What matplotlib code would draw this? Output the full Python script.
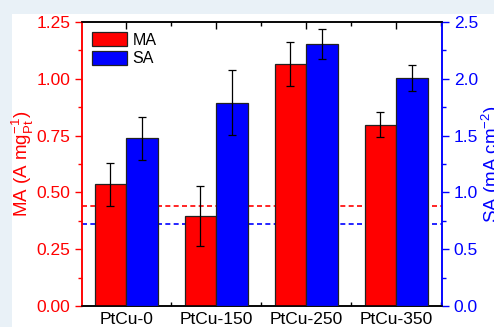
import matplotlib
matplotlib.use("Agg")
import matplotlib.pyplot as plt
import numpy as np
from matplotlib.patches import Rectangle
from matplotlib.ticker import MultipleLocator
from matplotlib.transforms import blended_transform_factory

plt.rcParams['font.family'] = ['Liberation Sans', 'DejaVu Sans']

categories = ["PtCu-0", "PtCu-150", "PtCu-250", "PtCu-350"]
ma_values = [0.536, 0.396, 1.065, 0.797]
ma_errors = [0.095, 0.13, 0.097, 0.055]
sa_values = [1.476, 1.79, 2.306, 2.007]
sa_errors = [0.187, 0.285, 0.135, 0.117]
ma_ref = 0.44
sa_ref = 0.72

RED = "#ff0000"
BLUE = "#0000ff"

fig = plt.figure(figsize=(4.94, 3.27), dpi=100)
fig.patch.set_facecolor("#e9f1f7")
fig.patches.append(Rectangle((12/494, 0), 1, 1 - 14/327, transform=fig.transFigure,
                             facecolor="white", edgecolor="none", zorder=-10))

ax1 = fig.add_axes([82/494, 1 - 306/327, 360/494, 284/327])
ax2 = ax1.twinx()

x = np.arange(len(categories))
w = 0.35

ax1.bar(x - w/2, ma_values, width=w, color=RED, edgecolor="#222222", linewidth=0.9,
        yerr=ma_errors, error_kw=dict(ecolor="black", elinewidth=0.9, capsize=2.6, capthick=0.9),
        label="MA", zorder=3)
ax2.bar(x + w/2, sa_values, width=w, color=BLUE, edgecolor="#222222", linewidth=0.9,
        yerr=sa_errors, error_kw=dict(ecolor="black", elinewidth=0.9, capsize=2.6, capthick=0.9),
        label="SA", zorder=3)

ax1.axhline(ma_ref, color=RED, linestyle=(0, (3, 2)), linewidth=1.2, zorder=1)
tr = blended_transform_factory(ax1.transAxes, ax2.transData)
ax1.plot([0, 1], [sa_ref, sa_ref], transform=tr, color=BLUE, linestyle=(0, (3, 2)),
         linewidth=1.2, zorder=1)

ax1.set_xlim(-0.49, 3.51)
ax1.set_ylim(0, 1.25)
ax2.set_ylim(0, 2.5)

ax1.set_xticks(x)
ax1.set_xticklabels(categories, fontsize=12.5, color="black")
ax1.xaxis.set_minor_locator(MultipleLocator(0.5))
ax1.tick_params(axis="x", which="both", direction="in", top=True, bottom=True,
                length=5, width=1, pad=4)
ax1.tick_params(axis="x", which="minor", length=3)

ax1.yaxis.set_major_locator(MultipleLocator(0.25))
ax1.yaxis.set_minor_locator(MultipleLocator(0.125))
ax1.set_yticks(np.arange(0, 1.26, 0.25))
ax1.set_yticklabels(["%.2f" % v for v in np.arange(0, 1.26, 0.25)])
ax1.tick_params(axis="y", which="both", direction="out", colors=RED, labelsize=12.5, width=1)
ax1.tick_params(axis="y", which="major", length=5)
ax1.tick_params(axis="y", which="minor", length=3)

ax2.yaxis.set_major_locator(MultipleLocator(0.5))
ax2.yaxis.set_minor_locator(MultipleLocator(0.25))
ax2.tick_params(axis="y", which="both", direction="out", colors=BLUE, labelsize=12.5, width=1)
ax2.tick_params(axis="y", which="major", length=5)
ax2.tick_params(axis="y", which="minor", length=3)

ax1.set_ylabel(r"MA (A mg$_{\mathregular{Pt}}^{\mathregular{-1}}$)", color=RED, fontsize=13.5, labelpad=0)
ax2.set_ylabel(r"SA (mA cm$^{\mathregular{-2}}$)", color=BLUE, fontsize=13.5, labelpad=1)

for ax in (ax1, ax2):
    ax.spines["left"].set_color(RED)
    ax.spines["right"].set_color(BLUE)
    ax.spines["top"].set_color("black")
    ax.spines["bottom"].set_color("black")
    for s in ax.spines.values():
        s.set_linewidth(1.1)

h1, l1 = ax1.get_legend_handles_labels()
h2, l2 = ax2.get_legend_handles_labels()
ax2.legend(h1 + h2, l1 + l2, loc="upper left", bbox_to_anchor=(10/360, 1 - 10/284),
           frameon=False, fontsize=11.5, borderaxespad=0, borderpad=0,
           handlelength=2.2, handleheight=1.0, labelspacing=0.2, handletextpad=0.35)

fig.savefig("out.png", dpi=100, facecolor=fig.get_facecolor())
